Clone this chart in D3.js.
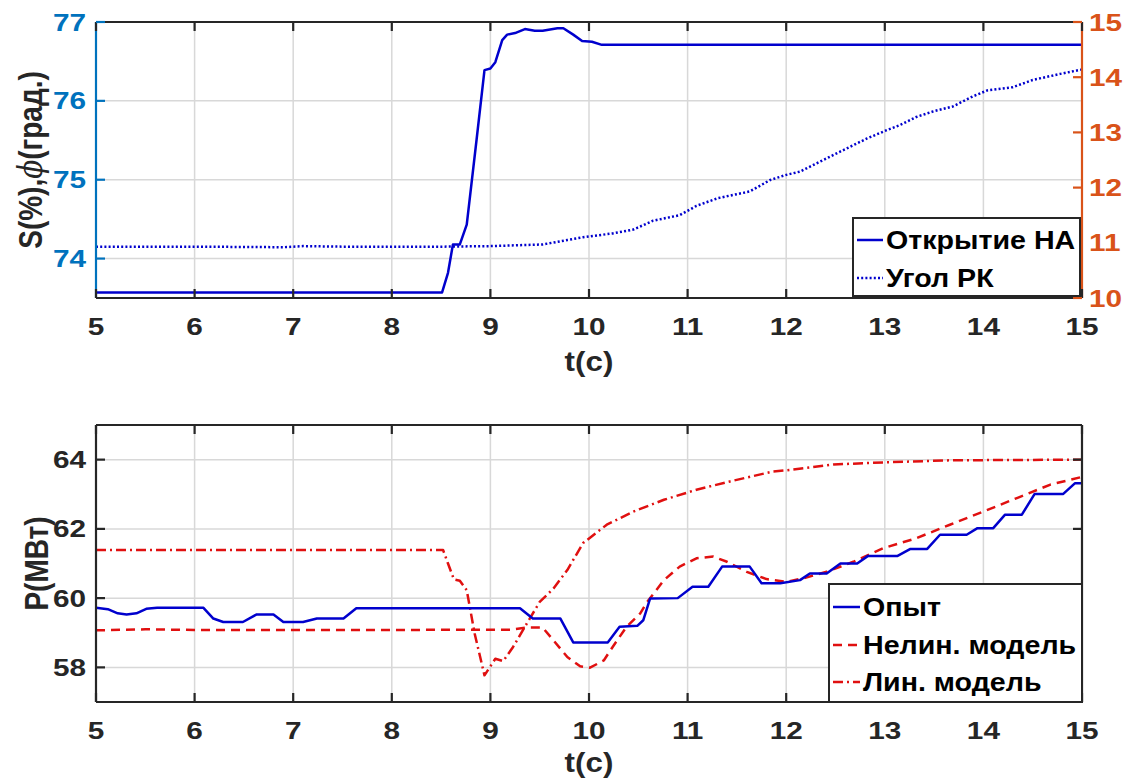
<!DOCTYPE html>
<html><head><meta charset="utf-8">
<script src="https://cdn.jsdelivr.net/npm/d3@7"></script>
<style>body{margin:0;background:#fff}svg{display:block}text{font-family:"Liberation Sans",Arial,sans-serif;font-weight:bold}</style>
</head><body><svg id="c" width="1133" height="780"></svg>
<script>
// ---- Data (top panel) ----
const xTicks = [5,6,7,8,9,10,11,12,13,14,15];
const leftTicks = [74,75,76,77];
const rightTicks = [10,11,12,13,14,15];
const openT = [5,8.51,8.57,8.62,8.69,8.76,8.86,8.94,9.0,9.05,9.12,9.17,9.25,9.35,9.45,9.53,9.68,9.74,9.84,9.93,10.03,10.13,15];
const openV = [73.57,73.57,73.82,74.18,74.18,74.43,75.51,76.39,76.41,76.49,76.77,76.84,76.86,76.91,76.89,76.89,76.92,76.92,76.84,76.76,76.75,76.71,76.71];
const angleT = [5,6,6.9,7.0,7.1,7.5,7.88,8.5,9.0,9.53,9.78,9.94,10.24,10.45,10.65,10.92,11.09,11.31,11.63,11.84,12.0,12.14,12.41,12.58,12.82,13.02,13.15,13.32,13.49,13.69,13.89,14.04,14.3,14.5,14.78,15];
const angleV = [10.93,10.93,10.92,10.93,10.94,10.93,10.93,10.93,10.94,10.97,11.05,11.10,11.17,11.24,11.40,11.50,11.67,11.81,11.93,12.14,12.23,12.29,12.53,12.68,12.89,13.04,13.13,13.28,13.38,13.47,13.65,13.76,13.82,13.95,14.06,14.14];
// ---- Data (bottom panel) ----
const pTicks = [58,60,62,64];
const expT = [5,5.12,5.22,5.31,5.41,5.51,5.62,6.09,6.19,6.29,6.49,6.63,6.80,6.90,7.10,7.24,7.51,7.64,9.30,9.43,9.71,9.84,10.19,10.31,10.49,10.55,10.62,10.90,11.05,11.21,11.35,11.63,11.75,11.94,12.14,12.24,12.41,12.55,12.72,12.83,13.13,13.26,13.43,13.56,13.83,13.94,14.10,14.22,14.39,14.52,14.81,14.93,15];
const expV = [59.72,59.68,59.56,59.53,59.56,59.69,59.72,59.72,59.41,59.31,59.31,59.53,59.53,59.31,59.31,59.41,59.41,59.71,59.71,59.41,59.41,58.72,58.72,59.17,59.20,59.36,59.99,60.0,60.33,60.33,60.91,60.91,60.43,60.43,60.52,60.71,60.71,61.0,61.0,61.22,61.22,61.42,61.42,61.83,61.83,62.02,62.02,62.41,62.41,63.01,63.01,63.32,63.32];
const nlinT = [5,5.5,6,7,8,9,9.22,9.37,9.53,9.64,9.78,9.91,10.01,10.15,10.24,10.38,10.52,10.59,10.76,10.92,11.09,11.26,11.40,11.60,11.80,12.0,12.17,12.41,12.68,12.98,13.32,13.66,14.0,14.34,14.68,15];
const nlinV = [59.07,59.10,59.08,59.08,59.08,59.09,59.09,59.15,59.15,58.78,58.30,58.03,57.99,58.20,58.59,59.17,59.56,59.89,60.52,60.91,61.15,61.20,61.05,60.76,60.55,60.47,60.57,60.76,61.05,61.44,61.73,62.12,62.50,62.89,63.28,63.50];
const linT = [5,8.52,8.57,8.63,8.69,8.76,8.84,8.94,9.05,9.13,9.23,9.37,9.50,9.64,9.78,9.94,10.18,10.45,10.76,11.09,11.43,11.87,12.0,12.48,12.98,13.66,15];
const linV = [61.39,61.39,61.0,60.54,60.5,60.23,58.98,57.77,58.25,58.18,58.59,59.27,59.89,60.28,60.81,61.59,62.12,62.50,62.84,63.13,63.37,63.66,63.69,63.86,63.92,63.98,64.0];
const legendTop = ["Открытие НА","Угол РК"];
const legendBot = ["Опыт","Нелин. модель","Лин. модель"];

const svg = d3.select("#c");
const dark = "#262626", grid = "#d8d8d8";
const blueAx = "#0072BD", orangeAx = "#D95319";
const lineBlue = "#0000CD", red = "#E01010";
const L = 96, R = 1082;
const x = d3.scaleLinear().domain([5,15]).range([L,R]);

// text with slight horizontal stretch (matches the wide glyphs of the reference)
function txt(g, px, py, str, size, color, anchor, sx){
  return g.append("text").attr("transform",`translate(${px},${py}) scale(${sx},1)`)
    .attr("text-anchor",anchor).attr("font-size",size).attr("fill",color).text(str);
}

function panel(top, bottom, yDom, yTicksL){
  const y = d3.scaleLinear().domain(yDom).range([bottom, top]);
  const g = svg.append("g");
  g.selectAll(".gx").data(xTicks.slice(1,-1)).enter().append("line")
    .attr("x1",d=>x(d)).attr("x2",d=>x(d)).attr("y1",top).attr("y2",bottom)
    .attr("stroke",grid).attr("stroke-width",1.5);
  g.selectAll(".gy").data(yTicksL).enter().append("line")
    .attr("x1",L).attr("x2",R).attr("y1",d=>y(d)).attr("y2",d=>y(d))
    .attr("stroke",grid).attr("stroke-width",1.5);
  return {y, g};
}
function frame(top,bottom,y,yTicksL,leftColor,rightColor,yR,rTicks){
  const g = svg.append("g");
  g.append("line").attr("x1",L).attr("x2",R).attr("y1",top).attr("y2",top).attr("stroke",dark).attr("stroke-width",2.2);
  g.append("line").attr("x1",L).attr("x2",R).attr("y1",bottom).attr("y2",bottom).attr("stroke",dark).attr("stroke-width",2.2);
  g.append("line").attr("x1",L).attr("x2",L).attr("y1",top).attr("y2",bottom).attr("stroke",leftColor).attr("stroke-width",2.2);
  g.append("line").attr("x1",R).attr("x2",R).attr("y1",top).attr("y2",bottom).attr("stroke",rightColor).attr("stroke-width",2.2);
  xTicks.forEach(t=>{
    g.append("line").attr("x1",x(t)).attr("x2",x(t)).attr("y1",bottom).attr("y2",bottom-9).attr("stroke",dark).attr("stroke-width",2.2);
    g.append("line").attr("x1",x(t)).attr("x2",x(t)).attr("y1",top).attr("y2",top+9).attr("stroke",dark).attr("stroke-width",2.2);
    txt(g, x(t), bottom+37, t, 24, dark, "middle", 1.24);
  });
  yTicksL.forEach(t=>{
    g.append("line").attr("x1",L).attr("x2",L+9).attr("y1",y(t)).attr("y2",y(t)).attr("stroke",leftColor).attr("stroke-width",2.2);
    if(!yR) g.append("line").attr("x1",R).attr("x2",R-9).attr("y1",y(t)).attr("y2",y(t)).attr("stroke",rightColor).attr("stroke-width",2.2);
    txt(g, L-10, y(t)+8.5, t, 24, leftColor, "end", 1.24);
  });
  if(yR){
    rTicks.forEach(t=>{
      g.append("line").attr("x1",R).attr("x2",R-9).attr("y1",yR(t)).attr("y2",yR(t)).attr("stroke",rightColor).attr("stroke-width",2.2);
      txt(g, R+7, yR(t)+8.5, t, 24, rightColor, "start", 1.24);
    });
  }
}
function series(T,V,ys,color,dash,w){
  const line = d3.line().x(d=>x(d[0])).y(d=>ys(d[1]));
  svg.append("path").datum(T.map((t,i)=>[t,V[i]])).attr("d",line)
    .attr("fill","none").attr("stroke",color).attr("stroke-width",w||2.2)
    .attr("stroke-dasharray",dash||null).attr("stroke-linejoin","round");
}

// ---- Top panel ----
const tTop=22, tBot=298;
const p1 = panel(tTop,tBot,[73.5,77],leftTicks);
const yR = d3.scaleLinear().domain([10,15]).range([tBot,tTop]);
series(angleT,angleV,yR,lineBlue,"2,2.2",2.5);
series(openT,openV,p1.y,lineBlue,null,2.5);
frame(tTop,tBot,p1.y,leftTicks,blueAx,orangeAx,yR,rightTicks);
txt(svg,(L+R)/2,371,"t(с)",28,dark,"middle",1.12);
const yl = svg.append("text").attr("transform",`translate(42,${(tTop+tBot)/2}) rotate(-90) scale(1,1.2)`).attr("text-anchor","middle").attr("font-size",28).attr("fill",dark);
yl.append("tspan").text("S(%),");
yl.append("tspan").attr("font-style","italic").attr("font-weight","normal").attr("font-family","DejaVu Serif, serif").text("ϕ");
yl.append("tspan").text("(град.)");
{
  const bx=853, by=218, bw=227, bh=78;
  svg.append("rect").attr("x",bx).attr("y",by).attr("width",bw).attr("height",bh).attr("fill","#fff").attr("stroke",dark).attr("stroke-width",2);
  const ys=[240,278], dashes=[null,"2,2.2"];
  legendTop.forEach((s,i)=>{
    svg.append("line").attr("x1",bx+4).attr("x2",bx+30).attr("y1",ys[i]).attr("y2",ys[i]).attr("stroke",lineBlue).attr("stroke-width",2.5).attr("stroke-dasharray",dashes[i]);
    txt(svg, bx+33, ys[i]+9, s, 26, "#000", "start", 1.1);
  });
}

// ---- Bottom panel ----
const bTop=425, bBot=702;
const p2 = panel(bTop,bBot,[57,65],pTicks);
series(linT,linV,p2.y,red,"10,4,2,4",2.5);
series(nlinT,nlinV,p2.y,red,"9,6",2.5);
series(expT,expV,p2.y,lineBlue,null,2.5);
frame(bTop,bBot,p2.y,pTicks,dark,dark,null,null);
txt(svg,(L+R)/2,772,"t(с)",28,dark,"middle",1.12);
svg.append("text").attr("transform",`translate(48,${(bTop+bBot)/2}) rotate(-90) scale(1,1.2)`).attr("text-anchor","middle").attr("font-size",28).attr("fill",dark).text("P(МВт)");
{
  const bx=829, by=584, bw=253, bh=118;
  svg.append("rect").attr("x",bx).attr("y",by).attr("width",bw).attr("height",bh).attr("fill","#fff").attr("stroke",dark).attr("stroke-width",2);
  const ys=[607,645,682], cols=[lineBlue,red,red], dashes=[null,"9,6","10,4,2,4"];
  legendBot.forEach((s,i)=>{
    svg.append("line").attr("x1",bx+4).attr("x2",bx+31).attr("y1",ys[i]).attr("y2",ys[i]).attr("stroke",cols[i]).attr("stroke-width",2.5).attr("stroke-dasharray",dashes[i]);
    txt(svg, bx+34, ys[i]+9, s, 26, "#000", "start", 1.1);
  });
}
</script></body></html>
